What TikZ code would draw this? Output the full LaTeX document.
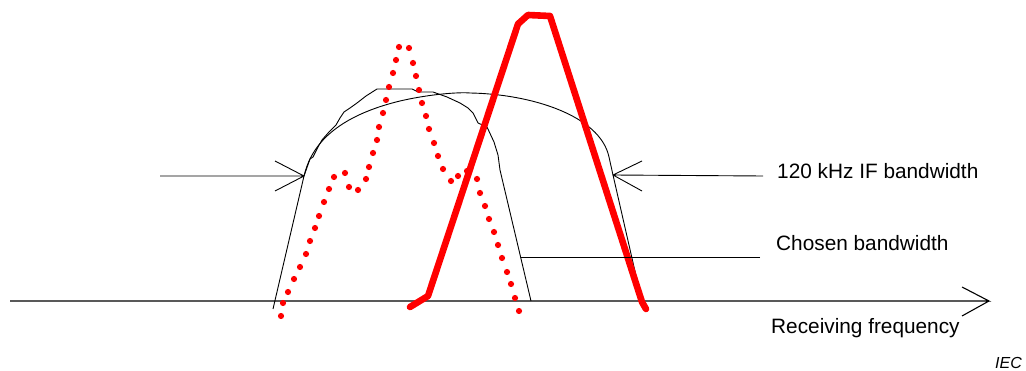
\documentclass[tikz,border=0pt]{standalone}
\usepackage{fontspec}
\setmainfont{Liberation Sans}
\begin{document}
\begin{tikzpicture}[x=1pt,y=-1pt,
  thinline/.style={line width=0.9pt, black, line join=round},
  axisline/.style={line width=1.1pt, black},
  redsolid/.style={line width=6.6pt, red, line cap=round, line join=round},
  reddot/.style={red},
  lbl/.style={inner sep=0pt, anchor=base west, font=\fontsize{20.8}{24}\selectfont},
  ieclbl/.style={inner sep=0pt, anchor=base west, font=\fontsize{16}{19}\selectfont\itshape}]
\useasboundingbox (0,0) rectangle (1026,371);
% frequency axis
\coordinate (axS) at (10,301);
\coordinate (axE) at (989,301);
\draw[axisline] (axS) -- (axE) -- ++(-27,-14) (axE) -- ++(-27,15);
% chosen bandwidth (jagged) curve
\draw[thinline] (273,309) -- (304,176) -- (310,159) -- (313,157) -- (318,147) -- (322,140) -- (329,132) -- (332,129) -- (336,125) -- (340,118)
  -- (344,112) -- (350,108) -- (357,103) -- (366,96) -- (377,89) -- (412,89) -- (418,92) -- (433,92) -- (447,97) -- (460,103)
  -- (468,108) -- (473,113) -- (478,123) -- (487,127) -- (494,142) -- (498,155) -- (500,170) -- (531,301);
% 120 kHz IF bandwidth (smooth) curve
\draw[thinline] (304,176) .. controls (310,150) and (330,118) .. (400,101)
  .. controls (430,94) and (460,92) .. (470,93)
  .. controls (530,94) and (600,115) .. (609,157)
  -- (613,175) -- (642,302);
% dotted red curve
\foreach \p in {(281,316),(283,303),(288,292),(294,279),(300,267),(306,254),(310,241),(315,228),
  (319,216),(324,202),(329,189),(334,177),(345,173),(349,187),(358,190),(366,179),(369,167),
  (373,153),(377,140),(379,127),(383,113),(386,100),(389,87),(393,73),(396,60),(399,47),(409,48),
  (413,63),(416,76),(419,90),(422,103),(426,116),(429,129),(434,143),(438,156),(443,169),(451,181),
  (458,176),(467,171),(477,179),(480,193),(485,206),(489,219),(494,232),(498,245),(502,258),
  (507,272),(511,284),(515,298),(519,311)}
  \fill[reddot] \p circle (3.1);
% solid red curve
\draw[redsolid] (410,307) -- (428,296) -- (518,24) -- (528,15) -- (550,16) -- (642,302) -- (646,309);
% labels
\node[lbl] (ifbw) at (777,179) {120 kHz IF bandwidth};
\node[lbl] (chosen) at (776,251) {Chosen bandwidth};
\node[lbl] (recv) at (771,334) {Receiving frequency};
\node[ieclbl] (iec) at (995,369) {IEC};
% pointers
\coordinate (lS) at (160,176);
\coordinate (lT) at (304,176);
\draw[thinline] (lS) -- (lT) -- ++(-29,-15) (lT) -- ++(-29,15);
\coordinate (rS) at (763,176);
\coordinate (rT) at (613,175);
\draw[thinline] (rS) -- (rT) -- ++(29,-14) (rT) -- ++(29,16);
\coordinate (cS) at (760,257);
\coordinate (cT) at (521,257);
\draw[thinline] (cS) -- (cT);
\end{tikzpicture}
\end{document}
